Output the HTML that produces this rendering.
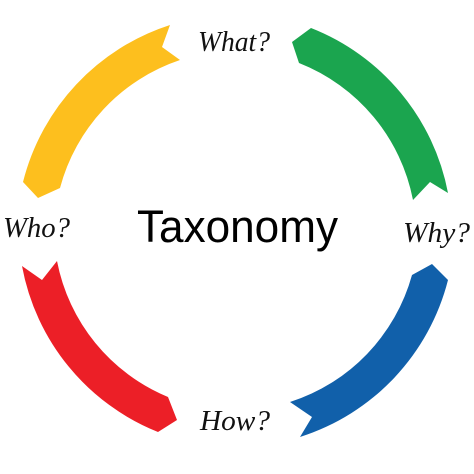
<!DOCTYPE html>
<html><head><meta charset="utf-8"><style>
html,body{margin:0;padding:0;background:#fff;}
svg{display:block;}
.q{font-family:"Liberation Serif",serif;font-style:italic;font-size:29px;fill:#111;}
.t{font-family:"Liberation Sans",sans-serif;font-size:45px;fill:#000;}
</style></head><body>
<svg width="474" height="474" viewBox="0 0 474 474" xmlns="http://www.w3.org/2000/svg">
<path fill="#FDBF1E" d="M170,25 A222 222 0 0 0 23,182 L38,198 L60,188 A185 185 0 0 1 180,60 L162,47 Z"/>
<path fill="#1BA54F" d="M311,28 A222 222 0 0 1 448,193 L430,182 L413,200 A185 185 0 0 0 299,63 L292,42 Z"/>
<path fill="#1160AA" d="M448,280 A222 222 0 0 1 300,437 L312,417 L290,402 A185 185 0 0 0 412,275 L432,264 Z"/>
<path fill="#EC1F27" d="M22,266 A222 222 0 0 0 158,432 L177,420 L168,397 A185 185 0 0 1 57,261 L42,280 Z"/>
<text class="q" x="198" y="51" textLength="72" lengthAdjust="spacingAndGlyphs">What?</text>
<text class="q" x="3" y="237" textLength="67" lengthAdjust="spacingAndGlyphs">Who?</text>
<text class="q" x="403" y="242" textLength="67" lengthAdjust="spacingAndGlyphs">Why?</text>
<text class="q" x="200" y="430" textLength="70" lengthAdjust="spacingAndGlyphs">How?</text>
<text class="t" x="137" y="242" textLength="201" lengthAdjust="spacingAndGlyphs">Taxonomy</text>
</svg>
</body></html>
